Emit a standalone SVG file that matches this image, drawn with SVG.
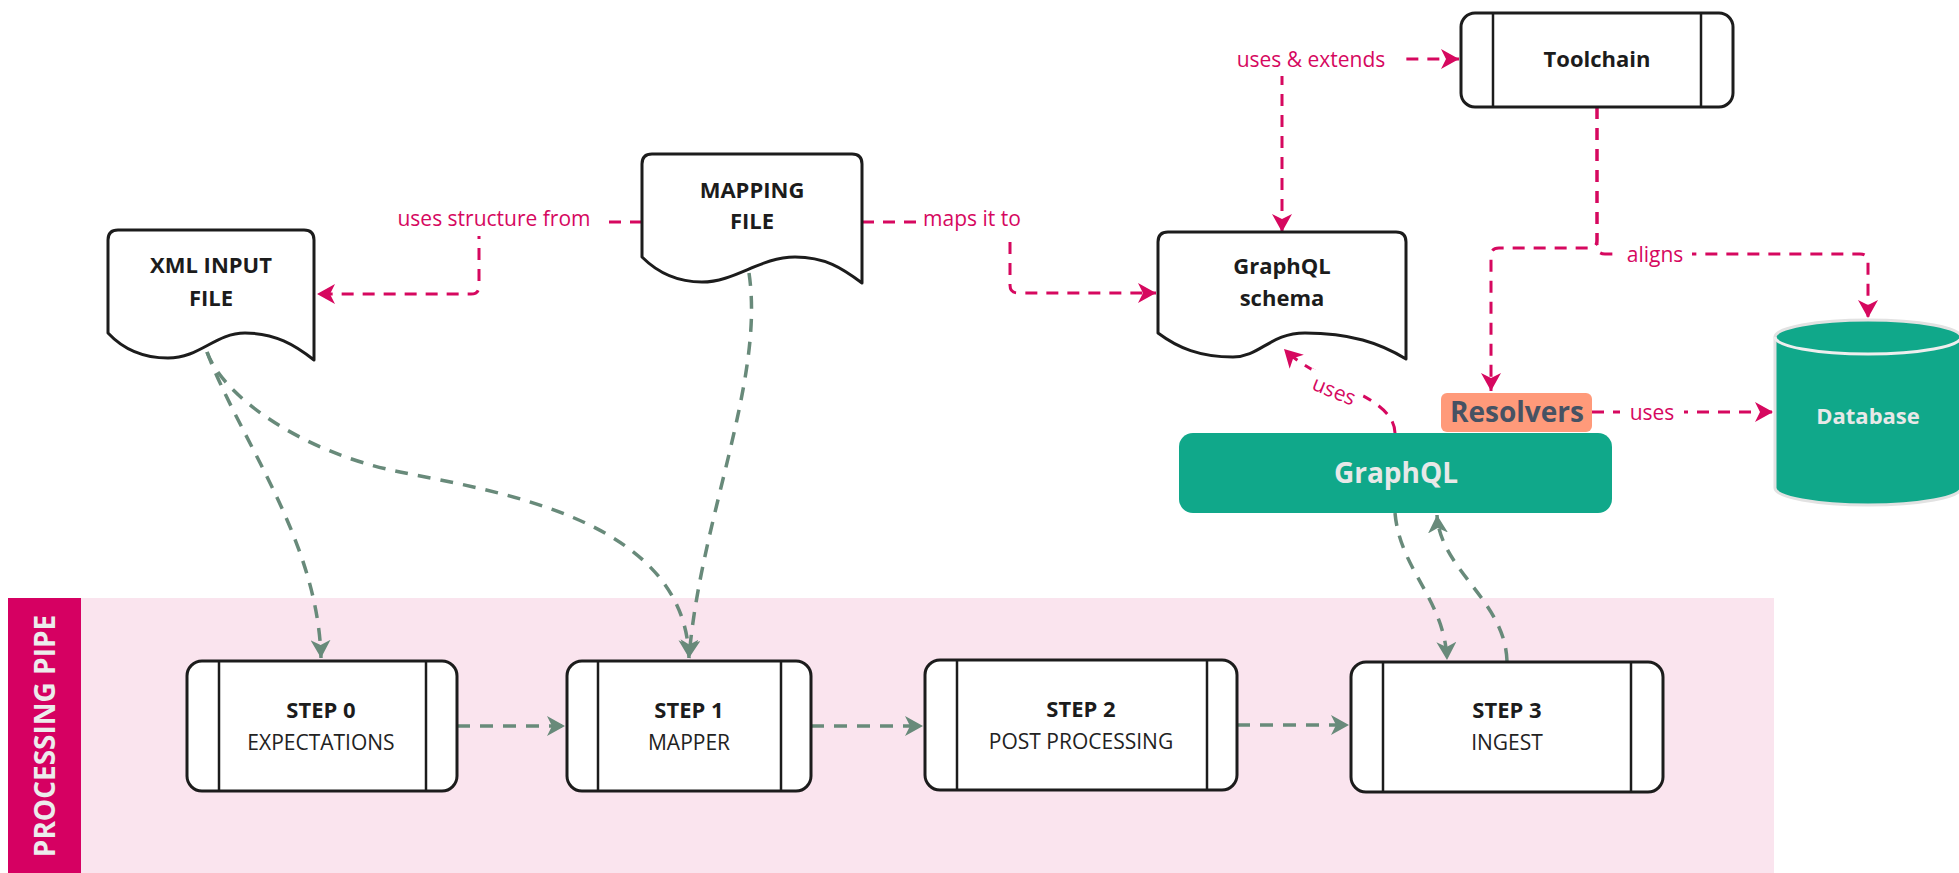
<svg xmlns="http://www.w3.org/2000/svg" width="1959" height="873" viewBox="0 0 1959 873">
  <style>
    text { font-family: "Open Sans", "Liberation Sans", sans-serif; }
    .node { fill: #ffffff; stroke: #1c1c1c; stroke-width: 3; stroke-linejoin: round; }
    .bar { fill: none; stroke: #1c1c1c; stroke-width: 2.5; }
    .title { font-size: 22px; font-weight: 700; fill: #1c1c1c; text-anchor: middle; }
    .sub { font-size: 21px; font-weight: 400; fill: #222222; text-anchor: middle; }
    .flow { fill: none; stroke: #688a7a; stroke-width: 3.5; stroke-dasharray: 13 10; }
    .link { fill: none; stroke: #d6085f; stroke-width: 3; stroke-dasharray: 12 9; }
    .lbl { font-size: 21px; fill: #d6085f; text-anchor: middle; }
    .lblbg { fill: #ffffff; }
  </style>
  <defs>
    <marker id="arrow-green" viewBox="0 0 20 20" refX="18" refY="10" markerWidth="20" markerHeight="20" markerUnits="userSpaceOnUse" orient="auto">
      <path d="M0,0 L18,10 L0,20 L5,10 Z" fill="#688a7a"/>
    </marker>
    <marker id="arrow-pink" viewBox="0 0 20 20" refX="18" refY="10" markerWidth="20" markerHeight="20" markerUnits="userSpaceOnUse" orient="auto-start-reverse">
      <path d="M0,0 L18,10 L0,20 L5,10 Z" fill="#d6085f"/>
    </marker>
  </defs>

  <!-- processing pipe lane -->
  <g id="lane">
    <rect x="81" y="598" width="1693" height="275" fill="#fae4ee"/>
    <rect x="8" y="598" width="73" height="275" fill="#d60062"/>
    <text transform="translate(55,736) rotate(-90)" font-size="28" font-weight="700" fill="#ececec" text-anchor="middle">PROCESSING PIPE</text>
  </g>

  <!-- connectors -->
  <g id="connectors">
    <!-- data flow (green) -->
    <path class="flow" d="M207,352 C240,440 318,540 321,658" marker-end="url(#arrow-green)"/>
    <path class="flow" d="M207,352 C222,395 300,452 400,472 C500,492 685,520 689,658" marker-end="url(#arrow-green)"/>
    <path class="flow" d="M749,273 C765,380 700,520 689,658" marker-end="url(#arrow-green)"/>
    <path class="flow" d="M457,726 L565,726" marker-end="url(#arrow-green)"/>
    <path class="flow" d="M811,726 L923,726" marker-end="url(#arrow-green)"/>
    <path class="flow" d="M1237,725 L1349,725" marker-end="url(#arrow-green)"/>
    <path class="flow" d="M1395,513 C1400,570 1445,600 1447,660" marker-end="url(#arrow-green)"/>
    <path class="flow" d="M1507,661 C1505,600 1440,570 1437,515" marker-end="url(#arrow-green)"/>

    <!-- relations (magenta) -->
    <path class="link" d="M642,222 L479,222 L479,286 Q479,294 471,294 L317,294" marker-end="url(#arrow-pink)"/>
    <rect class="lblbg" x="386" y="205" width="216" height="31"/>
    <text class="lbl" x="494" y="226">uses structure from</text>

    <path class="link" d="M862,222 L1010,222 L1010,285 Q1010,293 1018,293 L1156,293" marker-end="url(#arrow-pink)"/>
    <rect class="lblbg" x="916" y="205" width="114" height="31"/>
    <text class="lbl" x="972" y="226">maps it to</text>

    <path class="link" d="M1282,232 L1282,67 Q1282,59 1290,59 L1459,59" marker-start="url(#arrow-pink)" marker-end="url(#arrow-pink)"/>
    <rect class="lblbg" x="1224" y="44" width="174" height="32"/>
    <text class="lbl" x="1311" y="67">uses &amp; extends</text>

    <path class="link" d="M1597,107 L1597,240 Q1597,248 1589,248 L1499,248 Q1491,248 1491,256 L1491,391" marker-end="url(#arrow-pink)"/>
    <path class="link" d="M1597,107 L1597,246 Q1597,254 1605,254 L1860,254 Q1868,254 1868,262 L1868,318" marker-end="url(#arrow-pink)"/>
    <rect class="lblbg" x="1618" y="240" width="74" height="30"/>
    <text class="lbl" x="1655" y="262">aligns</text>

    <path class="link" d="M1395,433 C1394,395 1320,385 1284,349" marker-end="url(#arrow-pink)"/>
    <rect class="lblbg" x="1305" y="378" width="58" height="26" transform="rotate(22 1334 391)"/>
    <text class="lbl" x="1334" y="398" transform="rotate(22 1334 391)">uses</text>

    <path class="link" d="M1592,412 L1773,412" marker-end="url(#arrow-pink)"/>
    <rect class="lblbg" x="1620" y="398" width="64" height="28"/>
    <text class="lbl" x="1652" y="420">uses</text>
  </g>

  <!-- document nodes -->
  <g id="xml-input">
    <path class="node" d="M108,240 Q108,230 118,230 L304,230 Q314,230 314,240 L314,360 C295,345 275,333 245,333 C215,333 200,358 168,358 C140,358 122,348 108,333 Z"/>
    <text class="title" x="211" y="273">XML INPUT</text>
    <text class="title" x="211" y="306">FILE</text>
  </g>

  <g id="mapping-file">
    <path class="node" d="M642,164 Q642,154 652,154 L852,154 Q862,154 862,164 L862,283 C842,268 825,257 795,257 C760,257 735,282 702,282 C675,282 655,270 642,257 Z"/>
    <text class="title" x="752" y="198">MAPPING</text>
    <text class="title" x="752" y="229">FILE</text>
  </g>

  <g id="graphql-schema">
    <path class="node" d="M1158,242 Q1158,232 1168,232 L1396,232 Q1406,232 1406,242 L1406,359 C1380,343 1350,333 1305,333 C1270,333 1260,357 1233,357 C1200,357 1178,348 1158,333 Z"/>
    <text class="title" x="1282" y="274">GraphQL</text>
    <text class="title" x="1282" y="306">schema</text>
  </g>

  <!-- process nodes -->
  <g id="toolchain">
    <rect class="node" x="1461" y="13" width="272" height="94" rx="14"/>
    <line class="bar" x1="1493" y1="13" x2="1493" y2="107"/>
    <line class="bar" x1="1701" y1="13" x2="1701" y2="107"/>
    <text class="title" x="1597" y="67">Toolchain</text>
  </g>

  <g id="step-0">
    <rect class="node" x="187" y="661" width="270" height="130" rx="15"/>
    <line class="bar" x1="219" y1="661" x2="219" y2="791"/>
    <line class="bar" x1="426" y1="661" x2="426" y2="791"/>
    <text class="title" x="321" y="718">STEP 0</text>
    <text class="sub" x="321" y="750">EXPECTATIONS</text>
  </g>

  <g id="step-1">
    <rect class="node" x="567" y="661" width="244" height="130" rx="15"/>
    <line class="bar" x1="598" y1="661" x2="598" y2="791"/>
    <line class="bar" x1="781" y1="661" x2="781" y2="791"/>
    <text class="title" x="689" y="718">STEP 1</text>
    <text class="sub" x="689" y="750">MAPPER</text>
  </g>

  <g id="step-2">
    <rect class="node" x="925" y="660" width="312" height="130" rx="15"/>
    <line class="bar" x1="957" y1="660" x2="957" y2="790"/>
    <line class="bar" x1="1207" y1="660" x2="1207" y2="790"/>
    <text class="title" x="1081" y="717">STEP 2</text>
    <text class="sub" x="1081" y="749">POST PROCESSING</text>
  </g>

  <g id="step-3">
    <rect class="node" x="1351" y="662" width="312" height="130" rx="15"/>
    <line class="bar" x1="1383" y1="662" x2="1383" y2="792"/>
    <line class="bar" x1="1631" y1="662" x2="1631" y2="792"/>
    <text class="title" x="1507" y="718">STEP 3</text>
    <text class="sub" x="1507" y="750">INGEST</text>
  </g>

  <!-- service nodes -->
  <g id="graphql">
    <rect x="1179" y="433" width="433" height="80" rx="14" fill="#10a88a"/>
    <text x="1396" y="483" font-size="28" font-weight="700" fill="#e8e8e8" text-anchor="middle">GraphQL</text>
  </g>

  <g id="resolvers">
    <rect x="1441" y="393" width="151" height="39" rx="6" fill="#ff9a7a"/>
    <text x="1517" y="422" font-size="28" font-weight="700" fill="#465263" text-anchor="middle">Resolvers</text>
  </g>

  <g id="database">
    <path d="M1775,337 A93,17 0 0 1 1961,337 L1961,488 A93,17 0 0 1 1775,488 Z" fill="#10a88a" stroke="#e2e2e2" stroke-width="3"/>
    <path d="M1775,337 A93,17 0 0 0 1961,337" fill="none" stroke="#eeeeee" stroke-width="3"/>
    <text x="1868" y="424" font-size="22" font-weight="700" fill="#e8e8e8" text-anchor="middle">Database</text>
  </g>
</svg>
